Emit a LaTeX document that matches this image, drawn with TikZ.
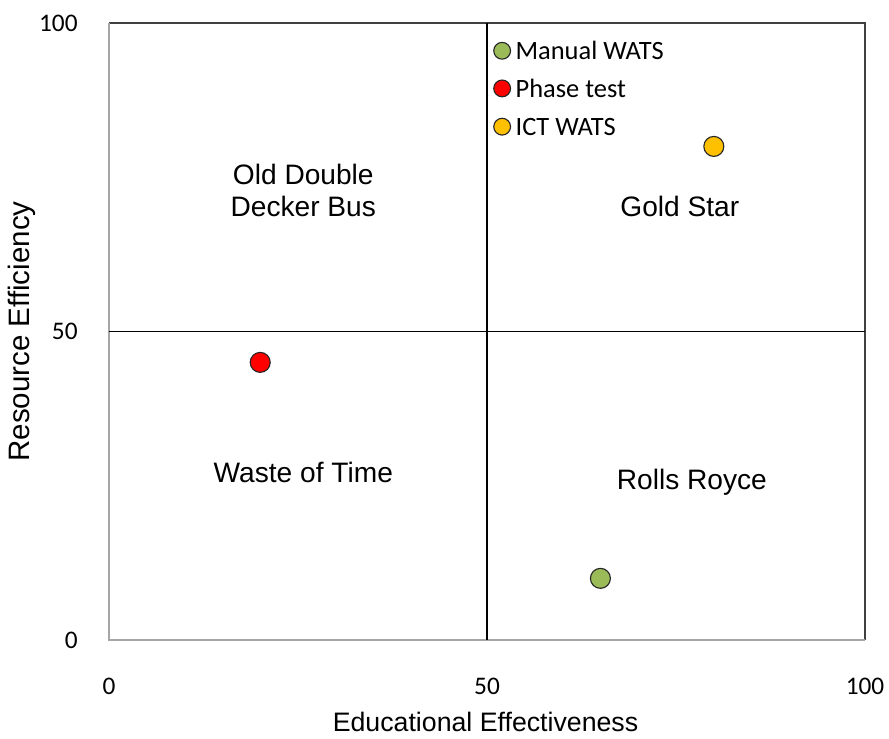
\documentclass[tikz,border=0pt]{standalone}
\usepackage{fontspec}
\setmainfont{Liberation Sans}
\newfontfamily\calibri{Carlito}
\definecolor{manualgreen}{RGB}{155,187,89}
\definecolor{phasered}{RGB}{255,0,0}
\definecolor{ictgold}{RGB}{255,192,0}
\tikzset{
  dot/.style={circle, draw=black!85, line width=0.8pt, inner sep=0pt, minimum size=0.5cm},
  keydot/.style={dot, minimum size=0.42cm},
  quadlabel/.style={font=\fontsize{20}{23}\selectfont, align=center},
  ticklabel/.style={font=\calibri\fontsize{18}{20}\selectfont},
  keylabel/.style={font=\calibri\fontsize{18.8}{21}\selectfont, anchor=west, inner sep=3pt}
}
\begin{document}
\begin{tikzpicture}[x=0.189cm,y=0.15425cm]
\useasboundingbox (-14.42,-15.88) rectangle (103.17,103.73);
% frame
\draw[black!75, line width=1pt] (0,100) -- (100,100) -- (100,0);
\draw[gray!70, line width=1pt] (0,100) -- (0,0) -- (100,0);
% quadrants
\draw[black, line width=1pt] (50,0) -- (50,100);
\draw[black, line width=1pt] (0,50) -- (100,50);
% tick labels
\foreach \v in {0,50,100}
    \node[ticklabel, anchor=east] (ytick\v) at (-3.5,\v) {\v};
\foreach \v in {0,50,100}
    \node[ticklabel] (xtick\v) at (\v,-7.46) {\v};
% axis titles
\node[font=\fontsize{19}{22}\selectfont] (xtitle) at (49.8,-13.3) {Educational Effectiveness};
\node[font=\fontsize{21}{24}\selectfont, rotate=90] (ytitle) at (-11.5,50) {Resource Efficiency};
% quadrant names
\node[quadlabel] (bus) at (25.7,72.9) {Old Double\\Decker Bus};
\node[quadlabel] (goldstar) at (75.5,70.2) {Gold Star};
\node[quadlabel] (waste) at (25.7,27.2) {Waste of Time};
\node[quadlabel] (rolls) at (77.1,25.6) {Rolls Royce};
% data
\node[dot, fill=manualgreen] (manual) at (65,10) {};
\node[dot, fill=phasered] (phase) at (20,45) {};
\node[dot, fill=ictgold] (ict) at (80,80) {};
% legend
\node[keydot, fill=manualgreen] (keymanual) at (52,95.5) {};
\node[keydot, fill=phasered] (keyphase) at (52,89.4) {};
\node[keydot, fill=ictgold] (keyict) at (52,83.2) {};
\node[keylabel] (keymanualtext) at (keymanual.east) {Manual WATS};
\node[keylabel] (keyphasetext) at (keyphase.east) {Phase test};
\node[keylabel] (keyicttext) at (keyict.east) {ICT WATS};
\end{tikzpicture}
\end{document}
